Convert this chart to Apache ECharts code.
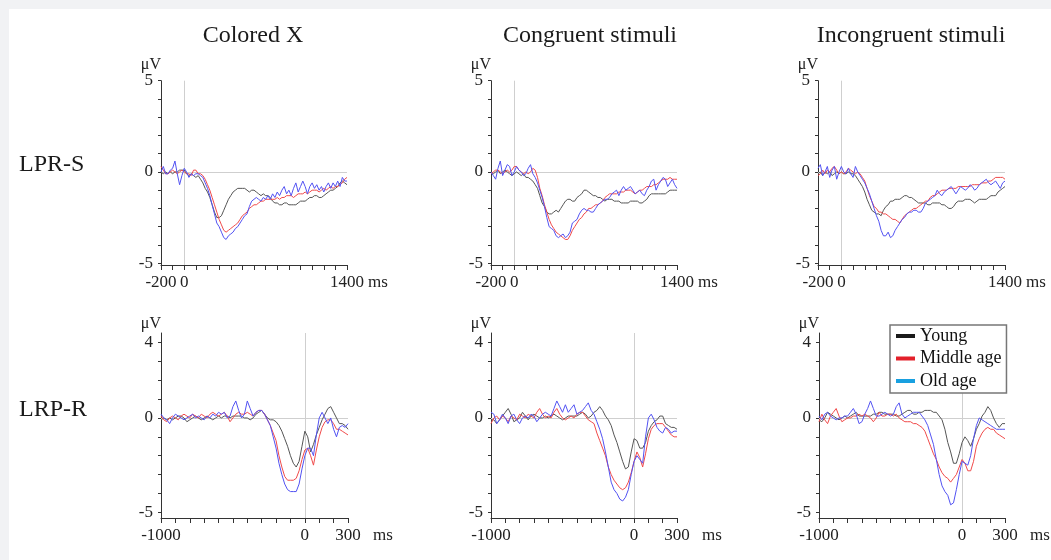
<!DOCTYPE html>
<html>
<head>
<meta charset="utf-8">
<script src="https://cdn.jsdelivr.net/npm/echarts@6/dist/echarts.min.js"></script>
<style>
html,body{margin:0;padding:0;background:#f1f2f4;width:1051px;height:560px;overflow:hidden;}
#bg{position:absolute;left:9px;top:9px;width:1042px;height:551px;background:#fff;}
#c{position:absolute;left:0;top:0;width:1051px;height:560px;}
</style>
</head>
<body>
<div id="bg"></div>
<div id="c"></div>
<script>
// ---------- data ----------
const panelTitles = ['Colored X', 'Congruent stimuli', 'Incongruent stimuli'];
const rowLabels = ['LPR-S', 'LRP-R'];
const groups = ['Young', 'Middle age', 'Old age'];

const timeTop = [-200,-180,-160,-140,-120,-100,-80,-60,-40,-20,
  0,20,40,60,80,100,120,140,160,180,
  200,220,240,260,280,300,320,340,360,380,
  400,420,440,460,480,500,520,540,560,580,
  600,620,640,660,680,700,720,740,760,780,
  800,820,840,860,880,900,920,940,960,980,
  1000,1020,1040,1060,1080,1100,1120,1140,1160,1180,
  1200,1220,1240,1260,1280,1300,1320,1340,1360,1380,
  1400];
const timeBottom = [-1000,-980,-960,-940,-920,-900,-880,-860,-840,-820,
  -800,-780,-760,-740,-720,-700,-680,-660,-640,-620,
  -600,-580,-560,-540,-520,-500,-480,-460,-440,-420,
  -400,-380,-360,-340,-320,-300,-280,-260,-240,-220,
  -200,-180,-160,-140,-120,-100,-80,-60,-40,-20,
  0,20,40,60,80,100,120,140,160,180,
  200,220,240,260,280,300];

const topTicksX = [-200,-100,0,100,200,300,400,500,600,700,800,900,1000,1100,1200,1300,1400];
const topLabelsX = [-200, 0, 1400];
const bottomTicksX = [-1000,-900,-800,-700,-600,-500,-400,-300,-200,-100,0,100,200,300];
const bottomLabelsX = [-1000, 0, 300];
const topTicksY = [-5,-4,-3,-2,-1,0,1,2,3,4,5];
const topLabelsY = [-5, 0, 5];
const bottomTicksY = [-5,-4,-3,-2,-1,0,1,2,3,4];
const bottomLabelsY = [-5, 0, 4];

// LPR-S, Colored X
const lprsColoredYoung = [0.0,-0.1,0.0,-0.1,0.0,-0.1,0.0,0.0,0.1,0.1,
  0.1,-0.1,-0.2,-0.1,-0.2,-0.3,-0.2,-0.4,-0.6,-0.9,
  -1.1,-1.4,-1.8,-2.2,-2.5,-2.5,-2.4,-2.1,-1.8,-1.5,
  -1.3,-1.1,-1.0,-0.9,-0.9,-0.9,-0.9,-1.0,-1.1,-1.0,
  -1.0,-1.1,-1.2,-1.3,-1.2,-1.3,-1.3,-1.4,-1.6,-1.7,
  -1.7,-1.8,-1.8,-1.7,-1.7,-1.8,-1.8,-1.8,-1.8,-1.7,
  -1.6,-1.6,-1.6,-1.5,-1.4,-1.4,-1.3,-1.3,-1.4,-1.4,
  -1.3,-1.2,-1.1,-1.0,-1.0,-0.9,-0.8,-0.6,-0.5,-0.6,
  -0.7];
const lprsColoredMiddle = [0.3,0.1,-0.1,-0.1,0.0,0.1,0.0,-0.1,0.0,0.1,
  0.0,-0.1,-0.1,-0.2,0.1,0.1,-0.1,-0.1,-0.2,-0.4,
  -0.7,-1.0,-1.4,-1.8,-2.2,-2.6,-2.9,-3.2,-3.3,-3.2,
  -3.1,-3.0,-2.9,-2.8,-2.6,-2.4,-2.3,-2.2,-2.0,-1.9,
  -1.8,-1.8,-1.7,-1.6,-1.6,-1.5,-1.5,-1.5,-1.5,-1.5,
  -1.4,-1.5,-1.4,-1.4,-1.3,-1.3,-1.3,-1.4,-1.3,-1.2,
  -1.2,-1.2,-1.1,-1.2,-1.1,-1.0,-1.0,-1.0,-1.1,-1.0,
  -0.9,-1.0,-0.9,-0.8,-0.9,-0.8,-0.8,-0.7,-0.6,-0.4,
  -0.3];
const lprsColoredOld = [0.0,0.3,-0.1,-0.1,0.1,0.2,0.6,-0.1,-0.7,-0.2,
  0.2,0.0,-0.3,-0.1,-0.2,-0.1,-0.1,-0.2,-0.3,-0.6,
  -0.9,-1.3,-1.8,-2.3,-2.8,-3.0,-3.3,-3.6,-3.7,-3.5,
  -3.4,-3.3,-3.1,-3.0,-2.8,-2.6,-2.4,-2.3,-1.9,-1.6,
  -1.5,-1.4,-1.5,-1.6,-1.4,-1.5,-1.3,-1.5,-1.2,-1.4,
  -1.1,-1.3,-1.0,-0.8,-1.2,-1.0,-1.3,-0.9,-0.6,-1.1,
  -0.8,-0.5,-0.8,-1.2,-0.8,-0.6,-0.9,-0.7,-1.0,-0.8,
  -1.1,-0.8,-0.6,-0.9,-0.6,-0.8,-0.5,-0.8,-0.3,-0.5,
  -0.5];

// LPR-S, Congruent
const lprsCongYoung = [0.0,-0.1,0.0,0.1,-0.1,0.0,0.1,0.0,-0.1,-0.2,
  -0.1,0.0,-0.1,-0.2,-0.1,-0.3,-0.3,-0.4,-0.5,-0.7,
  -0.9,-1.3,-1.7,-1.9,-2.2,-2.3,-2.3,-2.2,-2.1,-2.2,
  -2.0,-1.8,-1.6,-1.5,-1.5,-1.6,-1.6,-1.4,-1.3,-1.2,
  -1.0,-1.0,-1.1,-1.2,-1.3,-1.3,-1.4,-1.4,-1.5,-1.6,
  -1.5,-1.5,-1.5,-1.6,-1.6,-1.6,-1.7,-1.7,-1.7,-1.7,
  -1.6,-1.6,-1.6,-1.6,-1.7,-1.7,-1.6,-1.5,-1.3,-1.2,
  -1.2,-1.2,-1.2,-1.2,-1.2,-1.2,-1.1,-1.0,-1.0,-1.0,
  -1.0];
const lprsCongMiddle = [-0.1,0.0,0.1,0.1,0.0,-0.1,0.0,0.1,0.0,0.1,
  0.3,0.3,0.1,0.0,-0.1,0.0,-0.1,0.0,0.2,0.1,
  -0.3,-0.9,-1.3,-1.8,-2.2,-2.6,-2.9,-3.1,-3.3,-3.4,
  -3.5,-3.6,-3.7,-3.7,-3.5,-3.2,-3.0,-2.8,-2.6,-2.5,
  -2.3,-2.2,-2.0,-2.0,-1.9,-1.8,-1.8,-1.7,-1.6,-1.4,
  -1.3,-1.2,-1.2,-1.2,-1.2,-1.1,-1.1,-1.1,-1.0,-1.0,
  -1.0,-1.1,-1.2,-1.1,-1.0,-1.0,-0.9,-0.8,-0.8,-0.8,
  -0.7,-0.7,-0.6,-0.5,-0.4,-0.4,-0.4,-0.3,-0.4,-0.4,
  -0.4];
const lprsCongOld = [0.0,-0.2,-0.4,0.2,0.6,-0.2,0.1,0.4,0.3,-0.2,
  0.0,0.3,0.1,0.0,-0.2,-0.1,0.2,0.4,-0.1,-0.3,
  -0.6,-1.0,-1.4,-1.9,-2.5,-3.0,-3.1,-3.2,-3.5,-3.6,
  -3.5,-3.4,-3.6,-3.5,-3.3,-2.8,-2.7,-2.6,-2.3,-2.1,
  -2.0,-2.1,-2.1,-2.2,-2.2,-2.0,-1.8,-1.7,-1.6,-1.5,
  -1.5,-1.4,-1.2,-1.1,-1.0,-1.3,-1.0,-0.8,-1.0,-0.9,
  -0.8,-1.0,-1.2,-1.1,-1.0,-1.2,-1.3,-1.0,-0.8,-0.5,
  -0.4,-1.0,-0.7,-0.5,-0.3,-0.4,-0.8,-0.6,-0.4,-0.7,
  -0.9];

// LPR-S, Incongruent
const lprsIncYoung = [-0.1,0.0,-0.2,0.0,-0.1,0.0,-0.2,-0.1,0.0,-0.1,
  0.0,-0.1,-0.1,0.0,-0.1,-0.1,-0.2,-0.4,-0.6,-0.8,
  -1.1,-1.5,-1.8,-2.1,-2.2,-2.3,-2.3,-2.4,-2.1,-1.9,
  -1.8,-1.6,-1.6,-1.5,-1.5,-1.5,-1.4,-1.3,-1.3,-1.4,
  -1.4,-1.5,-1.6,-1.7,-1.7,-1.7,-1.7,-1.8,-1.8,-1.7,
  -1.7,-1.7,-1.7,-1.8,-1.8,-1.9,-2.0,-2.0,-1.9,-1.7,
  -1.6,-1.6,-1.6,-1.5,-1.5,-1.5,-1.6,-1.7,-1.6,-1.5,
  -1.5,-1.5,-1.5,-1.4,-1.3,-1.3,-1.3,-1.1,-1.0,-0.9,
  -0.8];
const lprsIncMiddle = [-0.2,-0.1,0.1,-0.1,0.1,0.0,0.2,0.3,0.1,-0.1,
  0.0,-0.1,0.0,0.2,0.1,0.0,-0.1,0.0,-0.1,-0.3,
  -0.5,-0.9,-1.3,-1.6,-1.9,-2.0,-2.2,-2.2,-2.3,-2.3,
  -2.4,-2.5,-2.6,-2.6,-2.7,-2.8,-2.6,-2.4,-2.3,-2.2,
  -2.1,-2.0,-2.0,-1.9,-1.8,-1.7,-1.6,-1.6,-1.4,-1.3,
  -1.3,-1.2,-1.1,-1.0,-1.0,-1.0,-0.9,-0.9,-0.9,-0.9,
  -0.8,-0.8,-0.8,-0.8,-0.8,-0.8,-0.7,-0.7,-0.7,-0.7,
  -0.6,-0.6,-0.6,-0.5,-0.5,-0.4,-0.3,-0.3,-0.3,-0.3,
  -0.4];
const lprsIncOld = [0.2,0.4,-0.2,0.0,0.3,-0.3,0.1,0.3,-0.4,0.0,
  0.3,0.0,-0.1,0.2,-0.1,-0.3,0.3,0.0,-0.2,-0.4,
  -0.6,-0.9,-1.2,-1.6,-2.0,-2.4,-2.7,-3.2,-3.5,-3.5,
  -3.3,-3.6,-3.5,-3.2,-3.0,-2.8,-2.6,-2.5,-2.3,-2.2,
  -2.2,-2.1,-2.1,-2.2,-2.2,-2.0,-1.7,-1.6,-1.5,-1.4,
  -1.3,-1.0,-1.2,-1.3,-1.1,-1.0,-0.9,-0.8,-1.0,-1.2,
  -1.0,-0.8,-0.9,-1.0,-0.9,-0.7,-0.8,-1.0,-0.9,-0.7,
  -0.6,-0.5,-0.4,-0.6,-0.7,-0.6,-0.5,-0.7,-0.9,-0.6,
  -0.5];

// LRP-R, Colored X
const lrprColoredYoung = [-0.1,0.0,-0.1,0.0,-0.1,0.0,0.1,0.1,0.0,-0.2,
  -0.1,0.0,0.1,0.0,-0.1,0.0,0.1,0.0,-0.1,0.0,
  0.1,0.0,0.1,0.1,0.0,0.1,0.1,0.1,0.1,0.0,
  0.0,-0.1,0.0,0.2,0.3,0.4,0.2,0.0,-0.1,-0.1,
  -0.2,-0.4,-0.7,-1.1,-1.5,-2.0,-2.4,-2.6,-2.3,-1.5,
  -0.7,-1.0,-1.8,-1.4,-0.9,-0.5,-0.1,0.2,0.5,0.6,
  0.3,0.0,-0.3,-0.3,-0.4,-0.6];
const lrprColoredMiddle = [0.1,-0.1,-0.2,0.0,0.1,0.0,-0.1,0.1,0.2,0.1,
  0.0,0.2,0.1,0.0,0.2,0.1,0.0,0.2,0.3,0.2,
  0.1,0.2,0.3,0.1,-0.2,0.0,0.2,0.3,0.2,0.2,
  0.3,0.2,0.1,0.3,0.4,0.4,0.2,-0.1,-0.4,-0.8,
  -1.2,-2.0,-2.6,-3.1,-3.3,-3.3,-3.3,-3.2,-2.8,-2.2,
  -1.7,-1.6,-2.0,-2.5,-1.7,-1.0,-0.5,-0.2,-0.1,-0.1,
  -0.3,-0.6,-0.6,-0.7,-0.8,-0.9];
const lrprColoredOld = [0.2,0.0,-0.1,-0.3,0.0,0.2,0.1,0.0,-0.1,0.0,
  0.1,0.2,0.0,0.1,0.0,-0.1,0.1,0.0,0.2,0.1,
  0.3,0.2,0.3,0.0,0.1,0.6,0.9,0.4,0.0,0.2,
  0.9,0.5,0.1,0.3,0.4,0.4,0.2,-0.1,-0.4,-1.0,
  -1.6,-2.4,-3.0,-3.5,-3.8,-3.9,-3.9,-3.9,-3.5,-2.7,
  -2.0,-1.6,-1.6,-2.0,-0.9,0.0,0.3,0.0,-0.3,0.0,
  -0.6,-1.0,-0.5,-0.4,-0.5,-0.3];

// LRP-R, Congruent
const lrprCongYoung = [-0.1,-0.1,-0.3,-0.1,0.1,0.3,0.5,0.2,-0.2,-0.1,
  0.0,0.3,0.1,-0.1,0.1,0.2,0.1,0.0,0.0,0.1,
  0.0,0.1,0.2,0.1,0.0,-0.1,0.0,0.1,0.1,0.1,
  0.1,0.2,0.3,0.2,0.0,0.1,0.3,0.4,0.6,0.4,
  0.1,-0.1,-0.4,-0.9,-1.3,-1.8,-2.3,-2.7,-2.6,-1.8,
  -1.1,-1.2,-1.6,-1.6,-1.3,-0.7,-0.4,-0.2,-0.1,0.1,
  0.1,-0.3,-0.4,-0.5,-0.5,-0.6];
const lrprCongMiddle = [-0.3,0.0,0.1,-0.1,0.1,0.0,-0.2,0.1,0.0,-0.1,
  0.2,0.1,0.0,0.2,0.1,0.0,0.3,0.5,0.2,0.0,
  0.1,0.0,0.3,0.5,0.2,0.0,-0.1,0.0,0.1,0.0,
  0.2,0.3,0.3,0.1,-0.1,-0.2,-0.3,-0.8,-1.2,-1.6,
  -2.0,-2.6,-3.0,-3.3,-3.5,-3.7,-3.8,-3.7,-3.4,-2.9,
  -2.3,-1.8,-2.1,-2.6,-1.9,-1.1,-0.6,-0.4,-0.3,-0.3,
  -0.3,-0.5,-0.7,-0.9,-1.0,-1.0];
const lrprCongOld = [0.3,0.2,-0.3,-0.1,0.2,0.0,-0.3,0.1,0.2,-0.1,
  -0.3,0.0,0.1,0.0,0.2,0.1,-0.2,0.0,0.2,0.3,
  0.2,0.1,0.5,0.9,0.6,0.3,0.7,0.3,0.5,0.7,
  0.2,0.3,0.4,0.6,0.8,0.4,0.2,-0.2,-0.6,-1.1,
  -1.8,-2.6,-3.4,-3.8,-4.0,-4.3,-4.4,-4.2,-3.8,-3.0,
  -2.3,-2.0,-2.2,-2.4,-1.0,0.0,0.2,-0.1,-0.5,-0.7,
  -0.8,-0.5,-0.6,-0.8,-0.7,-0.7];

// LRP-R, Incongruent
const lrprIncYoung = [-0.1,-0.2,0.0,0.3,0.2,0.1,0.0,-0.1,0.0,0.1,
  0.0,0.1,0.2,0.3,0.1,0.1,0.1,0.1,0.1,0.2,
  0.2,0.3,0.3,0.2,0.2,0.2,0.2,0.1,0.1,0.2,
  0.3,0.4,0.4,0.2,0.2,0.3,0.3,0.4,0.4,0.4,
  0.3,0.3,0.1,-0.1,-0.6,-1.3,-1.8,-2.4,-2.4,-1.9,
  -1.3,-1.0,-1.2,-1.5,-1.1,-0.6,-0.3,0.1,0.3,0.6,
  0.4,0.0,-0.3,-0.5,-0.3,-0.3];
const lrprIncMiddle = [-0.2,0.2,-0.1,-0.3,0.1,0.3,0.5,0.1,-0.2,-0.1,
  0.0,0.0,0.1,0.1,0.2,0.1,0.2,0.1,0.0,-0.2,
  0.0,0.3,0.1,0.1,0.2,0.2,0.1,0.2,0.0,-0.1,
  -0.2,-0.2,-0.2,-0.3,-0.3,-0.4,-0.5,-0.7,-1.1,-1.5,
  -1.9,-2.2,-2.6,-2.9,-3.1,-3.2,-3.4,-3.2,-3.0,-2.6,
  -2.2,-2.4,-2.8,-2.8,-2.3,-1.5,-1.1,-0.8,-0.6,-0.5,
  -0.6,-0.6,-0.8,-0.9,-1.0,-1.1];
const lrprIncOld = [0.1,-0.1,0.2,0.3,0.1,0.0,-0.1,0.0,0.0,0.1,
  0.1,0.3,0.5,0.2,-0.3,-0.2,0.2,0.5,0.9,0.5,
  0.1,0.1,0.2,0.3,0.2,0.1,0.2,0.6,0.8,0.2,
  0.0,0.1,0.2,0.3,0.3,0.3,0.1,-0.1,-0.4,-0.9,
  -1.4,-2.2,-3.0,-3.6,-3.9,-4.1,-4.6,-4.5,-3.8,-3.0,
  -2.3,-2.4,-2.5,-2.0,-1.1,-0.4,0.0,-0.1,-0.2,-0.3,
  -0.4,-0.5,-0.6,-0.6,-0.6,-0.6];

// ---------- chart ----------
const FONT = '"Liberation Serif", "DejaVu Serif", serif';
const lineColors = ['#555555', '#f04a4a', '#5252f2'];
const legendColors = ['#1a1a1a', '#e3202a', '#18a0e0'];

const panels = [
  {time: timeTop, sets: [lprsColoredYoung, lprsColoredMiddle, lprsColoredOld], row: 0},
  {time: timeTop, sets: [lprsCongYoung, lprsCongMiddle, lprsCongOld], row: 0},
  {time: timeTop, sets: [lprsIncYoung, lprsIncMiddle, lprsIncOld], row: 0},
  {time: timeBottom, sets: [lrprColoredYoung, lrprColoredMiddle, lrprColoredOld], row: 1},
  {time: timeBottom, sets: [lrprCongYoung, lrprCongMiddle, lrprCongOld], row: 1},
  {time: timeBottom, sets: [lrprIncYoung, lrprIncMiddle, lrprIncOld], row: 1}
];
const gridBoxes = [
  {left: 161, top: 80.7, width: 186, height: 184.3},
  {left: 491, top: 80.7, width: 186, height: 184.3},
  {left: 818, top: 80.7, width: 187, height: 184.3},
  {left: 161, top: 333, width: 187, height: 185},
  {left: 491, top: 333, width: 186, height: 185},
  {left: 819, top: 333, width: 186, height: 185}
];

const plain = v => String(v);
const grid = [], xAxis = [], yAxis = [], series = [];
panels.forEach((p, i) => {
  const top = p.row === 0;
  grid.push(Object.assign({containLabel: false}, gridBoxes[i]));
  xAxis.push({
    type: 'value', gridIndex: i,
    min: top ? -200 : -1000, max: top ? 1400 : 300,
    axisLine: {onZero: false, lineStyle: {color: '#333', width: 1}},
    axisTick: {customValues: top ? topTicksX : bottomTicksX, length: 5, lineStyle: {color: '#333'}},
    axisLabel: {customValues: top ? topLabelsX : bottomLabelsX, formatter: plain, fontSize: 17, color: '#222', margin: 9, fontFamily: FONT},
    splitLine: {show: false},
    name: 'ms', nameLocation: 'end', nameGap: top ? 21 : 25,
    nameTextStyle: {fontSize: 17, color: '#222', verticalAlign: 'top', padding: [9, 0, 0, 0], fontFamily: FONT}
  });
  yAxis.push({
    type: 'value', gridIndex: i,
    min: top ? -5.1 : -5.3, max: top ? 5 : 4.5,
    axisLine: {onZero: false, lineStyle: {color: '#333', width: 1}},
    axisTick: {customValues: top ? topTicksY : bottomTicksY, length: 3, lineStyle: {color: '#333'}},
    axisLabel: {customValues: top ? topLabelsY : bottomLabelsY, formatter: plain, fontSize: 17, color: '#222', margin: 8, fontFamily: FONT},
    splitLine: {show: false},
    name: 'μV', nameLocation: 'end', nameGap: top ? 8 : 1,
    nameTextStyle: {fontSize: 16, color: '#222', align: 'right', verticalAlign: 'bottom', fontFamily: FONT}
  });
  series.push({
    type: 'line', name: 'zero', xAxisIndex: i, yAxisIndex: i, data: [], z: 1, silent: true,
    markLine: {
      silent: true, z: 1, symbol: ['none', 'none'], animation: false,
      label: {show: false},
      lineStyle: {color: '#cfcfcf', type: 'solid', width: 1},
      data: [{yAxis: 0}, {xAxis: 0}]
    }
  });
  p.sets.forEach((vals, g) => {
    series.push({
      type: 'line', name: groups[g], xAxisIndex: i, yAxisIndex: i,
      showSymbol: false, symbol: 'none', z: 2 + g,
      lineStyle: {color: lineColors[g], width: 1},
      itemStyle: {color: lineColors[g]},
      data: p.time.map((t, k) => [t, vals[k]])
    });
  });
});

const graphic = [];
const titleX = [253, 590, 911];
panelTitles.forEach((t, i) => graphic.push({
  type: 'text', x: titleX[i], y: 36,
  style: {text: t, fontSize: 24, fontFamily: FONT, fill: '#1a1a1a', align: 'center', verticalAlign: 'middle'}
}));
const rowY = [165, 410];
rowLabels.forEach((t, i) => graphic.push({
  type: 'text', x: 19, y: rowY[i],
  style: {text: t, fontSize: 24, fontFamily: FONT, fill: '#1a1a1a', align: 'left', verticalAlign: 'middle'}
}));

const chart = echarts.init(document.getElementById('c'), null, {renderer: 'canvas'});
chart.setOption({
  animation: false,
  textStyle: {fontFamily: FONT},
  grid, xAxis, yAxis, series, graphic,
  legend: {
    orient: 'vertical', left: 890, top: 325, z: 20, zlevel: 1,
    padding: [2, 5, 3, 6], itemGap: 4.5, itemWidth: 19, itemHeight: 4,
    icon: 'rect', borderColor: '#777', borderWidth: 1.5, backgroundColor: '#fff',
    textStyle: {fontSize: 18, color: '#111', fontFamily: FONT},
    data: groups.map((g, i) => ({name: g, icon: 'rect', itemStyle: {color: legendColors[i]}}))
  }
});
</script>
</body>
</html>
